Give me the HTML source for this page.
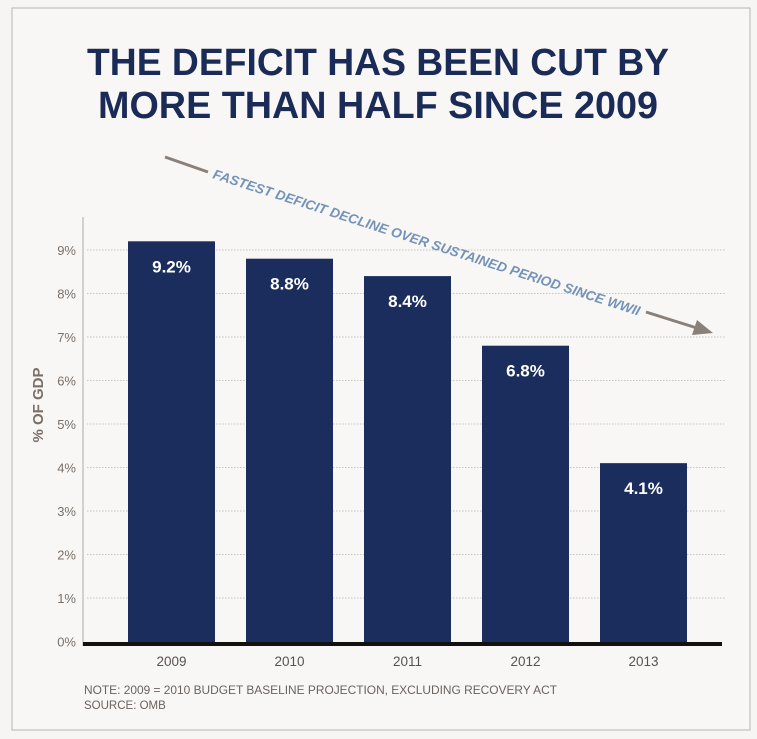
<!DOCTYPE html>
<html><head><meta charset="utf-8"><style>
html,body{margin:0;padding:0;background:#f6f5f3;}
svg{display:block;font-family:"Liberation Sans",sans-serif;}
</style></head><body>
<svg id="chart" width="757" height="739" viewBox="0 0 757 739" xmlns="http://www.w3.org/2000/svg">
<rect x="12" y="8" width="738" height="722" fill="#f8f7f5" stroke="#b8b4b0" stroke-width="1"/>
<text x="378" y="75" text-anchor="middle" font-size="38" font-weight="bold" fill="#1b2b57" textLength="582" lengthAdjust="spacingAndGlyphs">THE DEFICIT HAS BEEN CUT BY</text>
<text x="378" y="118" text-anchor="middle" font-size="38" font-weight="bold" fill="#1b2b57" textLength="560" lengthAdjust="spacingAndGlyphs">MORE THAN HALF SINCE 2009</text>
<g id="grid"></g>
<g id="bars"></g>
<g id="yticks"></g>
<g id="xticks"></g>
<line x1="83" y1="217" x2="83" y2="646" stroke="#aaa" stroke-width="1"/>
<line x1="83" y1="644" x2="722" y2="644" stroke="#111" stroke-width="4"/>
<text transform="translate(43,405) rotate(-90)" text-anchor="middle" font-size="15" font-weight="bold" fill="#7a706a">% OF GDP</text>
<g>
<line x1="165" y1="157" x2="208" y2="172" stroke="#8a807a" stroke-width="3"/>
<text transform="translate(212,178) rotate(17.9)" font-size="13.5" font-weight="bold" font-style="italic" fill="#7393b8" textLength="448" lengthAdjust="spacingAndGlyphs">FASTEST DEFICIT DECLINE OVER SUSTAINED PERIOD SINCE WWII</text>
<line x1="646" y1="312" x2="700" y2="329" stroke="#8a807a" stroke-width="3"/>
<polygon points="713,333 692,335 697,320" fill="#8a807a"/>
</g>
<text x="84" y="694" font-size="11.5" fill="#6a625e" textLength="473" lengthAdjust="spacingAndGlyphs">NOTE: 2009 = 2010 BUDGET BASELINE PROJECTION, EXCLUDING RECOVERY ACT</text>
<text x="84" y="709" font-size="11.5" fill="#6a625e">SOURCE: OMB</text>
</svg>
<script>
const categories = ["2009","2010","2011","2012","2013"];
const values = [9.2, 8.8, 8.4, 6.8, 4.1];
const valueLabels = ["9.2%","8.8%","8.4%","6.8%","4.1%"];
const yTicks = [0,1,2,3,4,5,6,7,8,9];
const yTickLabels = ["0%","1%","2%","3%","4%","5%","6%","7%","8%","9%"];
const NS="http://www.w3.org/2000/svg";
const y0=641.5, step=43.5;
function yScale(v){return y0 - v*step;}
function xScale(i){return 128 + i*118;}
const bw=87;
function mk(tag,attrs,parent){const e=document.createElementNS(NS,tag);for(const k in attrs)e.setAttribute(k,attrs[k]);parent.appendChild(e);return e;}
const grid=document.getElementById('grid'),bars=document.getElementById('bars'),yt=document.getElementById('yticks'),xt=document.getElementById('xticks');
yTicks.forEach((t,i)=>{
  const y=yScale(t);
  if(t>0){const l=mk('line',{x1:87,x2:725,y1:y,y2:y,stroke:'#c8c4c0','stroke-width':1,'stroke-dasharray':'1.5 1.5'},grid);
  
  }
  const tx=mk('text',{x:76,y:y+5,'text-anchor':'end','font-size':13,fill:'#7a706a'},yt);
  tx.textContent=yTickLabels[i];
  
  
});
categories.forEach((c,i)=>{
  const x=xScale(i),top=yScale(values[i]);
  const r=mk('rect',{x:x,y:top,width:bw,height:644-top,fill:'#1b2d5c'},bars);
  
  
  const v=mk('text',{x:x+bw/2,y:top+31,'text-anchor':'middle','font-size':17,'font-weight':'bold',fill:'#ffffff'},bars);
  v.textContent=valueLabels[i];
  
  
  const t=mk('text',{x:x+bw/2,y:666,'text-anchor':'middle','font-size':13.5,fill:'#5a524e'},xt);
  t.textContent=c;
  
  
});
</script>
</body></html>
